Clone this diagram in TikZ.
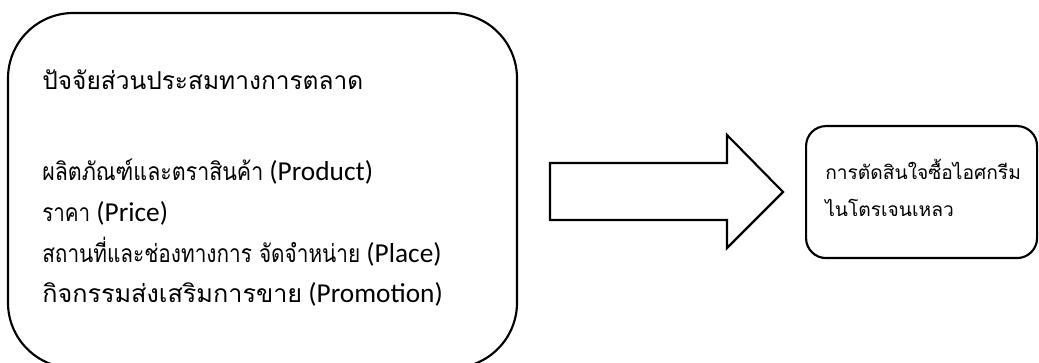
\documentclass[tikz,border=0pt]{standalone}
\usepackage{fontspec}
\usepackage{graphicx}
\setmainfont{Carlito}
\newfontfamily\thaifam[Script=Thai]{Loma}
\newcommand{\thtxt}[2]{\resizebox{#1}{\height}{\thaifam\fontsize{18.5}{22}\selectfont #2}}
\begin{document}
\begin{tikzpicture}[x=0.75pt,y=-0.75pt,
  box/.style={draw=black,line width=1.6pt},
  txt/.style={anchor=base west,inner sep=0pt,font=\fontsize{20.5}{24}\selectfont},
  txts/.style={anchor=base west,inner sep=0pt,font=\thaifam\fontsize{14.4}{17}\selectfont}]
\useasboundingbox (0,0) rectangle (1039,363);
\draw[box,rounded corners=49pt] (8,13) rectangle (517,368);
\node[box,rounded corners=15pt,minimum width=231*0.75pt,minimum height=132*0.75pt,anchor=north west,inner sep=0pt] (res) at (805,125) {};
\node[txt] (h) at (42,90) {\thtxt{240.75pt}{ปัจจัยส่วนประสมทางการตลาด}};
\node[txt] (l1) at (42,181) {\thtxt{165.75pt}{ผลิตภัณฑ์และตราสินค้า} (Product)};
\node[txt] (l2) at (42,222) {\thtxt{36pt}{ราคา} (Price)};
\node[txt] (l3) at (42,263) {\thtxt{238.5pt}{สถานที่และช่องทางการ จัดจำหน่าย} (Place)};
\node[txt] (l4) at (42,303) {\thtxt{195pt}{กิจกรรมส่งเสริมการขาย} (Promotion)};
\node[txts] (r1) at (825,180) {การตัดสินใจซื้อไอศกรีม};
\node[txts] (r2) at (825,217) {ไนโตรเจนเหลว};
\coordinate (a0) at (550,163);
\coordinate (tip) at (783,192);
\draw[box,line join=miter] (a0) -- (727,163) -- (727,135) -- (tip) -- (727,248) -- (727,220) -- (550,220) -- cycle;
\end{tikzpicture}
\end{document}
